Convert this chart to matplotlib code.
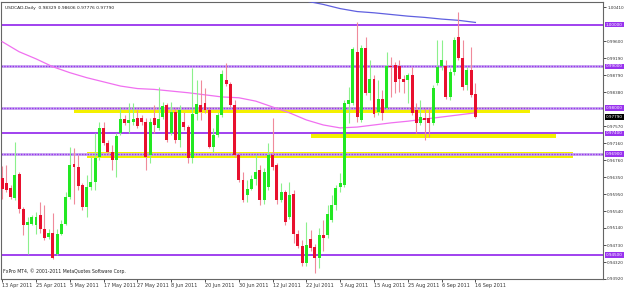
import numpy as np
import matplotlib.pyplot as plt
import matplotlib.transforms as mtransforms

# USDCAD daily bars, 13 Apr 2011 .. 16 Sep 2011
opens = [0.9633, 0.9621, 0.9609, 0.9585, 0.9642, 0.9560, 0.9520, 0.9524, 0.9520, 0.9544,
         0.9512, 0.9493, 0.9503, 0.9452, 0.9500, 0.9524, 0.9587, 0.9666, 0.9659, 0.9616,
         0.9563, 0.9611, 0.9623, 0.9683, 0.9753, 0.9717, 0.9695, 0.9676, 0.9741, 0.9774,
         0.9765, 0.9767, 0.9777, 0.9777, 0.9767, 0.9688, 0.9777, 0.9753, 0.9779, 0.9808,
         0.9741, 0.9791, 0.9724, 0.9767, 0.9755, 0.9681, 0.9786, 0.9808, 0.9813, 0.9796,
         0.9707, 0.9736, 0.9784, 0.9868, 0.9858, 0.9808, 0.9688, 0.9628, 0.9592, 0.9606,
         0.9630, 0.9652, 0.9580, 0.9611, 0.9688, 0.9664, 0.9580, 0.9599, 0.9541, 0.9596,
         0.9500, 0.9472, 0.9431, 0.9488, 0.9469, 0.9443, 0.9496, 0.9496, 0.9532, 0.9568,
         0.9611, 0.9616, 0.9810, 0.9813, 0.9935, 0.9772, 0.9945, 0.9837, 0.9870, 0.9791,
         0.9822, 0.9801, 0.9901, 0.9904, 0.9901, 0.9870, 0.9868, 0.9880, 0.9796, 0.9765,
         0.9777, 0.9777, 0.9765, 0.9861, 0.9901, 0.9901, 0.9827, 0.9887, 0.9971, 0.9921,
         0.9856, 0.9892, 0.98329]
highs = [0.9661, 0.9664, 0.9616, 0.9719, 0.9647, 0.9565, 0.9539, 0.9546, 0.9551, 0.9575,
         0.9568, 0.9512, 0.9549, 0.9512, 0.9532, 0.9599, 0.9707, 0.9705, 0.9688, 0.9621,
         0.9640, 0.9683, 0.9741, 0.9767, 0.9767, 0.9724, 0.9712, 0.9741, 0.9803, 0.9784,
         0.9813, 0.9813, 0.9796, 0.9784, 0.9777, 0.9777, 0.9808, 0.9851, 0.9815, 0.9813,
         0.9815, 0.9801, 0.9808, 0.9791, 0.9760, 0.9897, 0.9868, 0.9868, 0.9849, 0.9803,
         0.9753, 0.9791, 0.9892, 0.9909, 0.9863, 0.9820, 0.9695, 0.9647, 0.9628, 0.9640,
         0.9690, 0.9664, 0.9657, 0.9717, 0.9777, 0.9669, 0.9621, 0.9604, 0.9623, 0.9604,
         0.9510, 0.9484, 0.9527, 0.9508, 0.9476, 0.9515, 0.9532, 0.9568, 0.9592, 0.9616,
         0.9645, 0.9820, 0.9851, 0.9947, 1.0007, 0.9952, 0.9969, 0.9916, 0.9880, 0.9868,
         0.9844, 0.9935, 0.9923, 0.9911, 0.9916, 0.9880, 0.9885, 0.9899, 0.9813, 0.9820,
         0.9801, 0.9801, 0.9856, 0.9964, 0.9964, 0.9916, 0.9895, 0.9971, 1.0029, 0.9964,
         0.9899, 0.9947, 0.98606]
lows = [0.9584, 0.9599, 0.9582, 0.9580, 0.9549, 0.9496, 0.9452, 0.9520, 0.9500, 0.9503,
        0.9484, 0.9488, 0.9440, 0.9450, 0.9496, 0.9520, 0.9582, 0.9572, 0.9604, 0.9556,
        0.9539, 0.9604, 0.9604, 0.9676, 0.9712, 0.9690, 0.9652, 0.9635, 0.9736, 0.9760,
        0.9741, 0.9760, 0.9753, 0.9760, 0.9652, 0.9669, 0.9741, 0.9748, 0.9774, 0.9719,
        0.9736, 0.9717, 0.9707, 0.9748, 0.9669, 0.9669, 0.9772, 0.9772, 0.9789, 0.9705,
        0.9695, 0.9731, 0.9779, 0.9853, 0.9803, 0.9683, 0.9623, 0.9577, 0.9575, 0.9604,
        0.9616, 0.9568, 0.9572, 0.9604, 0.9652, 0.9572, 0.9575, 0.9520, 0.9536, 0.9479,
        0.9467, 0.9424, 0.9424, 0.9460, 0.9407, 0.9419, 0.9460, 0.9491, 0.9527, 0.9556,
        0.9599, 0.9611, 0.9765, 0.9808, 0.9767, 0.9767, 0.9832, 0.9820, 0.9779, 0.9784,
        0.9772, 0.9796, 0.9827, 0.9837, 0.9839, 0.9837, 0.9813, 0.9784, 0.9741, 0.9760,
        0.9724, 0.9731, 0.9760, 0.9856, 0.9892, 0.9822, 0.9820, 0.9880, 0.9916, 0.9844,
        0.9844, 0.9827, 0.97776]
closes = [0.9606, 0.9604, 0.9587, 0.9640, 0.9560, 0.9520, 0.9529, 0.9541, 0.9539, 0.9512,
          0.9491, 0.9503, 0.9443, 0.9500, 0.9524, 0.9587, 0.9664, 0.9659, 0.9613, 0.9563,
          0.9611, 0.9623, 0.9681, 0.9753, 0.9717, 0.9695, 0.9676, 0.9733, 0.9774, 0.9765,
          0.9772, 0.9774, 0.9757, 0.9767, 0.9683, 0.9767, 0.9760, 0.9774, 0.9805, 0.9724,
          0.9791, 0.9724, 0.9796, 0.9755, 0.9681, 0.9786, 0.9810, 0.9791, 0.9796, 0.9707,
          0.9736, 0.9784, 0.9882, 0.9858, 0.9808, 0.9688, 0.9628, 0.9580, 0.9606, 0.9630,
          0.9647, 0.9580, 0.9647, 0.9688, 0.9659, 0.9580, 0.9601, 0.9529, 0.9592, 0.9500,
          0.9472, 0.9431, 0.9474, 0.9467, 0.9441, 0.9496, 0.9491, 0.9548, 0.9568, 0.9609,
          0.9621, 0.9813, 0.9820, 0.9942, 0.9779, 0.9945, 0.9837, 0.9870, 0.9786, 0.9822,
          0.9789, 0.9901, 0.9899, 0.9863, 0.9870, 0.9863, 0.9880, 0.9789, 0.9765, 0.9779,
          0.9772, 0.9765, 0.9849, 0.9899, 0.9916, 0.9827, 0.9887, 0.9964, 0.9921, 0.9851,
          0.9892, 0.9832, 0.97790]

# moving averages read every 4 bars
ma_slow_bars = [0, 4, 8, 12, 16, 20, 24, 28, 32, 36, 40, 44, 48, 52, 56,
                60, 64, 68, 72, 76, 80, 84, 88, 92, 96, 100, 104, 108, 112]
ma_slow = [0.9959, 0.9935, 0.9918, 0.9899, 0.9885, 0.9873, 0.9863, 0.9853, 0.9847, 0.9845,
           0.9841, 0.9837, 0.9832, 0.9827, 0.9825, 0.9817, 0.9803, 0.9789, 0.9772, 0.9760,
           0.9753, 0.9755, 0.9760, 0.9765, 0.9769, 0.9774, 0.9779, 0.9784, 0.9789]
ma_long_bars = [72, 76, 80, 84, 88, 92, 96, 100, 104, 108, 112]
ma_long = [1.0056, 1.0048, 1.0038, 1.0031, 1.0028, 1.0024, 1.0020, 1.0017, 1.0013, 1.0010, 1.0005]

# horizontal levels
levels = [1.0000, 0.9900, 0.9800, 0.9740, 0.9690, 0.9450]
level_text = ['1.00000', '0.99000', '0.98000', '0.97400', '0.96900', '0.94500']
level_dotted = [False, True, True, False, True, False]

# yellow zones: start bar, end bar, low, high
zone_start = [17, 73, 20]
zone_end = [125, 131, 135]
zone_low = [0.9789, 0.9729, 0.9681]
zone_high = [0.9803, 0.9738, 0.9695]

price_ticks = [1.00410, 0.99600, 0.99190, 0.98790, 0.98380, 0.97570, 0.97160, 0.96760,
               0.96350, 0.95950, 0.95540, 0.95140, 0.94730, 0.94320, 0.93920]
date_labels = ['13 Apr 2011', '25 Apr 2011', '5 May 2011', '17 May 2011', '27 May 2011',
               '8 Jun 2011', '20 Jun 2011', '30 Jun 2011', '12 Jul 2011', '22 Jul 2011',
               '3 Aug 2011', '15 Aug 2011', '25 Aug 2011', '6 Sep 2011', '16 Sep 2011']
date_bars = list(range(0, 113, 8))

up_col = '#22e822'
dn_col = '#e8102e'
line_col = '#9933ee'

fig = plt.figure(figsize=(6.25, 2.89), dpi=100)
ax = fig.add_axes([1 / 625, 10 / 289, 602 / 625, 277 / 289])

# zones
for s, e, lo, hi in zip(zone_start, zone_end, zone_low, zone_high):
    ax.fill_between([s, e], lo, hi, color='#f4f000', lw=0, zorder=1)

# levels
for lv, dot in zip(levels, level_dotted):
    if dot:
        ax.axhline(lv, color='#c8a8f0', lw=2.0, zorder=2)
        ax.axhline(lv, color=line_col, lw=1.0, ls=(0, (1, 1)), zorder=2)
    else:
        ax.axhline(lv, color=line_col, lw=1.3, zorder=2)

# moving averages
ax.plot(ma_slow_bars, ma_slow, color='#f070f0', lw=0.9, zorder=3)
ax.plot(ma_long_bars, ma_long, color='#6060e0', lw=0.9, zorder=3)

# candles
x = np.arange(len(opens))
o = np.array(opens)
c = np.array(closes)
up = c >= o
wick_cols = np.where(up, '#8cf08c', '#f08a9a')
ax.vlines(x, lows, highs, colors=wick_cols, lw=0.8, zorder=4)
body_h = np.maximum(np.abs(c - o), 0.00008)
ax.bar(x, body_h, bottom=np.minimum(o, c), width=0.7,
       color=np.where(up, up_col, dn_col), lw=0, zorder=5)

ax.set_xlim(-0.28, 142.2)
ax.set_ylim(0.93920, 1.00538)

ax.yaxis.tick_right()
ax.set_yticks(price_ticks)
ax.set_yticklabels([f'{t:.5f}' for t in price_ticks])
ax.set_xticks(date_bars)
ax.set_xticklabels(date_labels, ha='left')
ax.tick_params(axis='y', labelsize=3.0, length=2, width=0.6, pad=1.0, colors='#333333')
ax.tick_params(axis='x', labelsize=3.5, length=2, width=0.6, pad=1.0, colors='#333333')
for sp in ax.spines.values():
    sp.set_color('#666666')
    sp.set_linewidth(0.8)

trans = mtransforms.blended_transform_factory(ax.transAxes, ax.transData)
for lv, txt in zip(levels, level_text):
    ax.text(1.005, lv, txt, transform=trans, fontsize=3.0, color='white', va='center',
            ha='left', bbox=dict(boxstyle='square,pad=0.2', fc=line_col, ec='none'),
            clip_on=False, zorder=6)
ax.text(1.005, closes[-1], '0.97790', transform=trans, fontsize=3.0, color='white',
        va='center', ha='left', bbox=dict(boxstyle='square,pad=0.2', fc='black', ec='none'),
        clip_on=False, zorder=6)

ax.text(0.007, 0.985, 'USDCAD,Daily  0.98329 0.98606 0.97776 0.97790', transform=ax.transAxes,
        fontsize=3.2, va='top', ha='left', color='#222222')
ax.text(0.004, 0.027, 'FxPro MT4, \u00a9 2001-2011 MetaQuotes Software Corp.',
        transform=ax.transAxes, fontsize=3.3, va='center', ha='left', color='#222222')

fig.savefig('out.png', dpi=100, facecolor='white')
